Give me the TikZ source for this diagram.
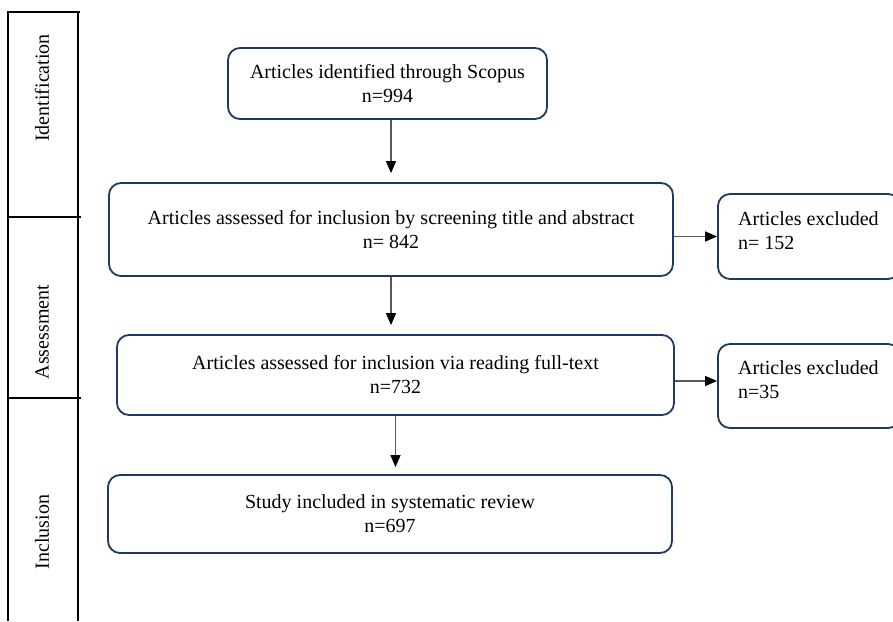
\documentclass[tikz,border=0pt]{standalone}
\usepackage{fontspec}
\setmainfont{Liberation Serif}
\usetikzlibrary{arrows.meta}
\definecolor{boxblue}{RGB}{31,56,100}
\tikzset{
  flowbox/.style={draw=boxblue, line width=1.8pt, rounded corners=12pt, fill=white,
    align=center, font=\fontsize{20}{24}\selectfont, inner sep=0pt},
  exbox/.style={draw=boxblue, line width=1.8pt, rounded corners=12pt, fill=white,
    inner sep=0pt},
  extext/.style={anchor=west, align=left, font=\fontsize{20}{24}\selectfont, inner sep=0pt},
  stage/.style={rotate=90, font=\fontsize{20}{24}\selectfont, inner sep=0pt},
  frame/.style={line width=1.3pt, black},
  arr/.style={line width=1.3pt, black!65, -{Triangle[length=12pt,width=10pt,color=black]}}
}
\begin{document}
\begin{tikzpicture}[x=1pt,y=-1pt]
\clip (0,0) rectangle (893,621);
\fill[white] (0,0) rectangle (893,621);
% stage column
\draw[frame] (8,621) -- (8,12) -- (80,12);
\draw[frame] (78,12) -- (78,621);
\draw[frame] (8,217) -- (81,217);
\draw[frame] (8,398) -- (81,398);
\node[stage] (sid) at (42,88) {Identification};
\node[stage] (sas) at (42,332) {Assessment};
\node[stage] (sin) at (42,532) {Inclusion};
% main boxes
\node[flowbox, minimum width=319pt, minimum height=71pt] (b1) at (387.5,83.5)
  {Articles identified through Scopus\\n=994};
\node[flowbox, minimum width=564pt, minimum height=93pt] (b2) at (391,229.5)
  {Articles assessed for inclusion by screening title and abstract\\n= 842};
\node[flowbox, minimum width=557pt, minimum height=80pt] (b3) at (395.5,375)
  {Articles assessed for inclusion via reading full-text\\n=732};
\node[flowbox, minimum width=564pt, minimum height=78pt] (b4) at (390,514)
  {Study included in systematic review\\n=697};
% excluded boxes
\node[exbox, minimum width=182pt, minimum height=85pt] (ex1) at (809,236.5) {};
\node[extext] (ex1t) at (738,231) {Articles excluded\\n= 152};
\node[exbox, minimum width=182pt, minimum height=84pt] (ex2) at (809,386) {};
\node[extext] (ex2t) at (738,380) {Articles excluded\\n=35};
% arrows
\draw[arr, shorten >=9pt] (b1.south -| b2.north) -- (b2.north);
\draw[arr, shorten >=9pt] (b2.south) -- (b2.south |- b3.north);
\draw[arr, shorten >=7pt] (b3.south) -- (b3.south |- b4.north);
\draw[arr] (b2.east |- ex1.west) -- (ex1.west);
\draw[arr] ([yshift=-6pt]b3.east) -- ([yshift=-6pt]b3.east -| ex2.west);
\end{tikzpicture}
\end{document}
